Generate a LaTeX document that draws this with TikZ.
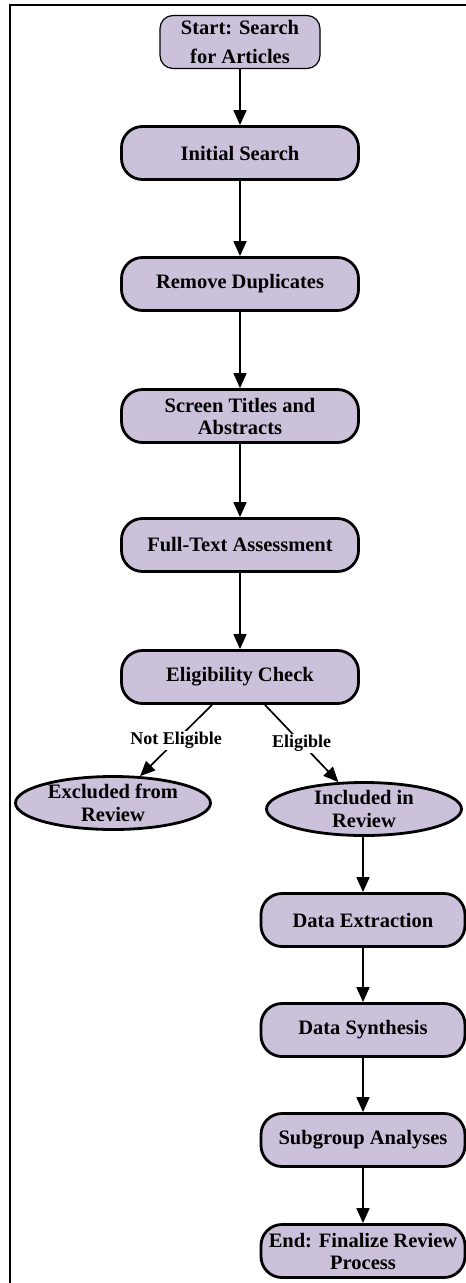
\documentclass[tikz,border=0pt]{standalone}
\usepackage{fontspec}
\setmainfont{Liberation Serif}
\usetikzlibrary{arrows.meta,shapes.geometric}
\definecolor{lav}{RGB}{204,193,219}
\begin{document}
\begin{tikzpicture}[x=1pt,y=-1pt,
  box/.style={draw, line width=2.8pt, fill=lav, rounded corners=21pt,
    minimum height=53pt, align=center, inner sep=0pt,
    font=\fontsize{20.5}{22}\selectfont\bfseries},
  mainbox/.style={box, minimum width=237pt},
  sidebox/.style={box, minimum width=204pt},
  startbox/.style={box, line width=1.2pt, rounded corners=13pt,
    minimum width=160pt, font=\fontsize{20.5}{29}\selectfont\bfseries},
  ell/.style={draw, ellipse, line width=2.8pt, fill=lav, inner sep=0pt,
    minimum width=195pt, minimum height=53pt},
  elltext/.style={align=center, inner sep=0pt,
    font=\fontsize{20.5}{23}\selectfont\bfseries},
  arr/.style={line width=1.7pt, -{Triangle[length=15pt,width=13pt]}},
  lab/.style={fill=white, inner sep=1.5pt,
    font=\fontsize{18}{20}\selectfont\bfseries}
]
\useasboundingbox (0,0) rectangle (466,1283);
\clip (0,0) rectangle (466,1283);
\draw[line width=1.8pt] (10,5) rectangle (495,1300);

\node[startbox] (start) at (240,42) {Start: Search\\for Articles};
\node[mainbox] (init) at (240,153) {Initial Search};
\node[mainbox] (dup) at (240,284) {Remove Duplicates};
\node[mainbox] (screen) at (240,416) {Screen Titles and\\Abstracts};
\node[mainbox] (full) at (240,545) {Full-Text Assessment};
\node[mainbox] (elig) at (240,677) {Eligibility Check};
\node[ell, label={[elltext]center:Excluded from\\Review}] (excl) at (113,803) {};
\node[ell, label={[elltext]center:Included in\\Review}] (incl) at (364,809) {};
\node[sidebox] (extr) at (363,920) {Data Extraction};
\node[sidebox] (synth) at (363,1030) {Data Synthesis};
\node[sidebox] (sub) at (363,1140) {Subgroup Analyses};
\node[sidebox] (end) at (363,1251) {End: Finalize Review\\Process};

\draw[arr] (start) -- (init);
\draw[arr] (init) -- (dup);
\draw[arr] (dup) -- (screen);
\draw[arr] (screen) -- (full);
\draw[arr] (full) -- (elig);
\draw[arr] ([xshift=-28pt]elig.south) -- node[lab]{Not Eligible} (excl);
\draw[arr] ([xshift=25pt]elig.south) -- node[lab]{Eligible} (incl);
\draw[arr] (incl.south -| extr.north) -- (extr.north);
\draw[arr] (extr) -- (synth);
\draw[arr] (synth) -- (sub);
\draw[arr] (sub) -- (end);
\end{tikzpicture}
\end{document}
